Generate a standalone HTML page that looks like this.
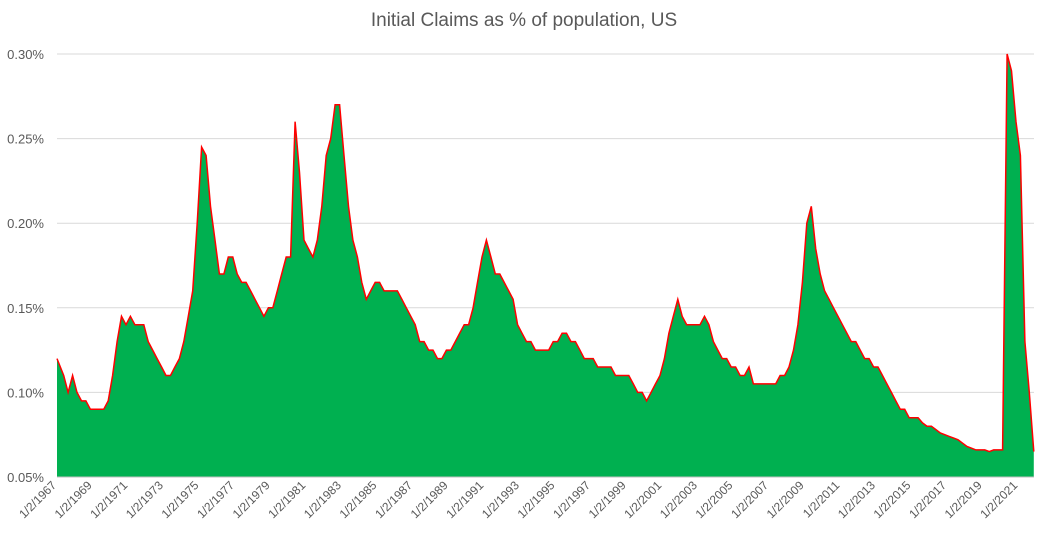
<!DOCTYPE html>
<html><head><meta charset="utf-8"><style>
body{margin:0;background:#fff;font-family:"Liberation Sans",sans-serif;}
svg text{font-family:"Liberation Sans",sans-serif;fill:#595959;}
</style></head><body>
<svg id="chart" width="1049" height="546" viewBox="0 0 1049 546">
<text x="524" y="26" text-anchor="middle" font-size="19">Initial Claims as % of population, US</text>
<g id="grid"></g><g id="yticks"></g><g id="xticks"></g><g id="series"></g>
</svg>
<script>
const startYear = 1967;
const quarterValues = [
0.12,0.11,0.10,0.11, 0.10,0.095,0.095,0.09, 0.09,0.09,0.09,0.095, 0.11,0.13,0.145,0.14,
0.145,0.14,0.14,0.14, 0.13,0.125,0.12,0.115, 0.11,0.11,0.115,0.12, 0.13,0.145,0.16,0.20,
0.245,0.24,0.21,0.19, 0.17,0.17,0.18,0.18, 0.17,0.165,0.165,0.16, 0.155,0.15,0.145,0.15,
0.15,0.16,0.17,0.18, 0.18,0.26,0.23,0.19, 0.185,0.18,0.19,0.21, 0.24,0.25,0.27,0.27,
0.24,0.21,0.19,0.18, 0.165,0.155,0.16,0.165, 0.165,0.16,0.16,0.16, 0.16,0.155,0.15,0.145,
0.14,0.13,0.13,0.125, 0.125,0.12,0.12,0.125, 0.125,0.13,0.135,0.14, 0.14,0.15,0.165,0.18,
0.19,0.18,0.17,0.17, 0.165,0.16,0.155,0.14, 0.135,0.13,0.13,0.125, 0.125,0.125,0.125,0.13,
0.13,0.135,0.135,0.13, 0.13,0.125,0.12,0.12, 0.12,0.115,0.115,0.115, 0.115,0.11,0.11,0.11,
0.11,0.105,0.10,0.10, 0.095,0.10,0.105,0.11, 0.12,0.135,0.145,0.155, 0.145,0.14,0.14,0.14,
0.14,0.145,0.14,0.13, 0.125,0.12,0.12,0.115, 0.115,0.11,0.11,0.115, 0.105,0.105,0.105,0.105,
0.105,0.105,0.11,0.11, 0.115,0.125,0.14,0.165, 0.20,0.21,0.185,0.17, 0.16,0.155,0.15,0.145,
0.14,0.135,0.13,0.13, 0.125,0.12,0.12,0.115, 0.115,0.11,0.105,0.10, 0.095,0.09,0.09,0.085,
0.085,0.085,0.082,0.08, 0.08,0.078,0.076,0.075, 0.074,0.073,0.072,0.07, 0.068,0.067,0.066,0.066,
0.066,0.065,0.066,0.066, 0.066,1.0,0.29,0.26, 0.24,0.13,0.10,0.065
];
const yTicks = [0.05,0.10,0.15,0.20,0.25,0.30];
const yTickLabels = ["0.05%","0.10%","0.15%","0.20%","0.25%","0.30%"];
const xTickYears = [1967,1969,1971,1973,1975,1977,1979,1981,1983,1985,1987,1989,1991,1993,1995,1997,1999,2001,2003,2005,2007,2009,2011,2013,2015,2017,2019,2021];

const NS="http://www.w3.org/2000/svg";
const X0=57, PXY=17.8, Y0=477, Y1=54, VMIN=0.05, VMAX=0.30;
const xs = t => X0 + (t - startYear) * PXY;
const ys = v => Y0 - (Math.min(v,VMAX) - VMIN) / (VMAX - VMIN) * (Y0 - Y1);
function mk(tag, attrs, parent){const e=document.createElementNS(NS,tag);for(const k in attrs)e.setAttribute(k,attrs[k]);parent.appendChild(e);return e;}

const grid=document.getElementById('grid'), yt=document.getElementById('yticks'), xt=document.getElementById('xticks'), ser=document.getElementById('series');
yTicks.forEach((v,i)=>{
  const l=mk('line',{x1:X0,x2:1034,y1:ys(v),y2:ys(v),stroke:'#d9d9d9','stroke-width':1},grid);
  
  
  const t=mk('text',{x:44,y:ys(v)+5,'text-anchor':'end','font-size':13},yt);
  t.textContent=yTickLabels[i];
  
  
});
xTickYears.forEach(yr=>{
  const x=xs(yr), y=486;
  const t=mk('text',{x:x,y:y,'text-anchor':'end','font-size':12,transform:`rotate(-45 ${x} ${y})`},xt);
  t.textContent='1/2/'+yr;
  
  
});
let pts=quarterValues.map((v,i)=>[xs(startYear+i*0.25+0.125),ys(v)]);
pts[0][0]=X0;
const last=pts[pts.length-1][0];
const lineD='M'+pts.map(p=>p[0].toFixed(1)+','+p[1].toFixed(1)).join('L');
const area=mk('path',{d:lineD+`L${last},${Y0}L${X0},${Y0}Z`,fill:'#00b050'},ser);


const line=mk('path',{d:lineD,fill:'none',stroke:'#ff0000','stroke-width':1.5},ser);


const ax=mk('line',{x1:X0,x2:1034,y1:Y0,y2:Y0,stroke:'#bfbfbf'},ser);


</script>
</body></html>
